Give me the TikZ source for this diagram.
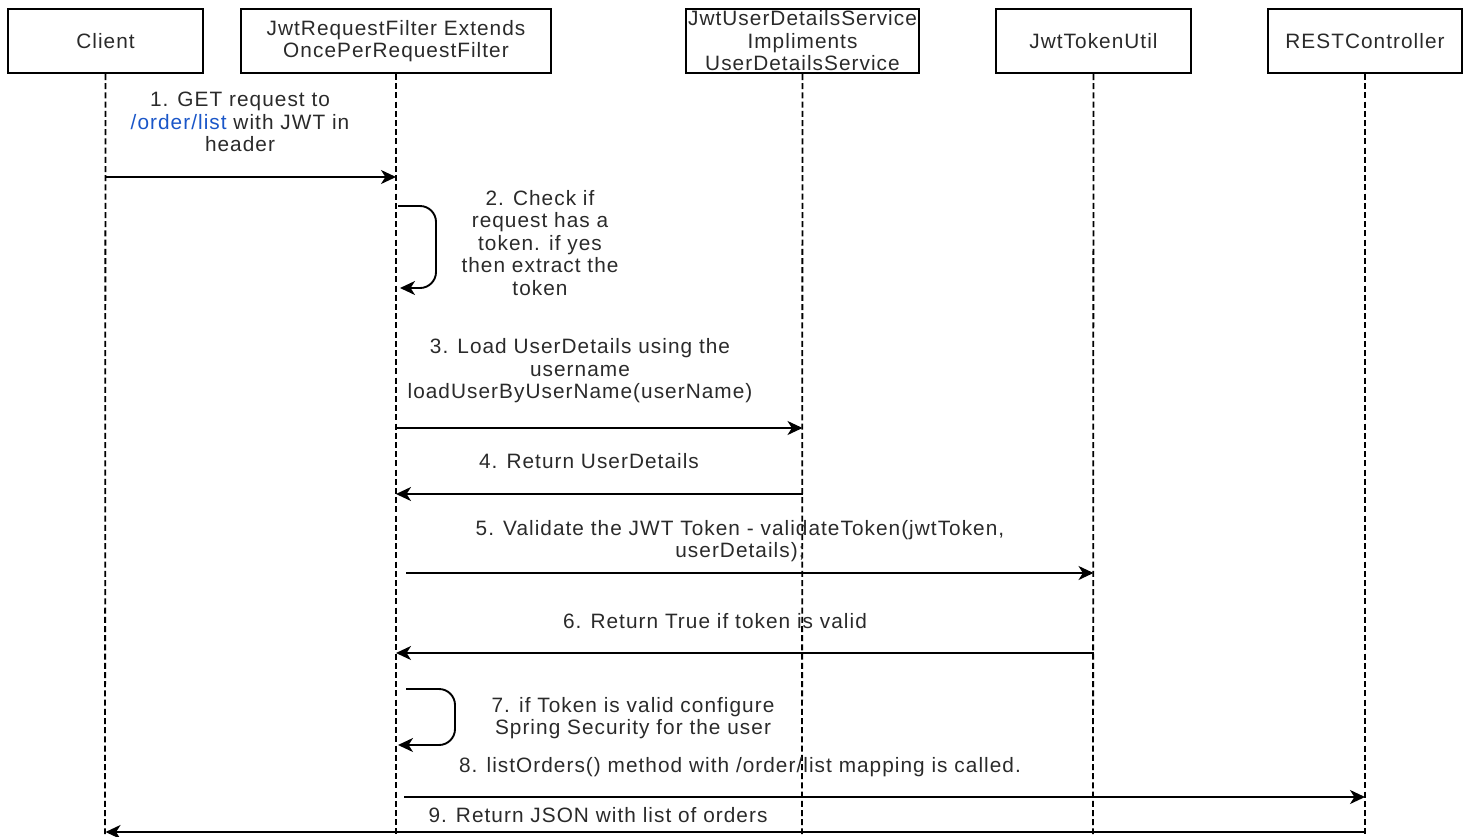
\documentclass[tikz,border=0pt]{standalone}
\usepackage{fontspec}
\setmainfont{Liberation Sans}[LetterSpace=5]
\usetikzlibrary{arrows.meta}
\definecolor{txt}{HTML}{2A2A2A}
\definecolor{lnk}{HTML}{1A56C8}
\begin{document}
\begin{tikzpicture}[x=0.5pt,y=-0.5pt,
  actor/.style={draw=black,line width=1pt,rectangle,minimum width=#1*0.5pt,minimum height=32pt,inner sep=0pt,align=center,font=\fontsize{10.4}{11.25}\selectfont,text=txt},
  life/.style={line width=0.9pt,dash pattern=on 3pt off 1.6pt},
  msg/.style={line width=0.95pt,-{Stealth[length=7.5pt,width=7pt,inset=2.2pt]}},
  lbl/.style={align=center,font=\fontsize{10.4}{11.25}\selectfont,text=txt,inner sep=0pt}]
\useasboundingbox (0,0) rectangle (1466,836);
% actors
\node[actor=195] (client) at (105.5,41) {Client};
\node[actor=310] (filter) at (396,41) {JwtRequestFilter Extends\\OncePerRequestFilter};
\node[actor=233] (uds) at (802.5,41) {JwtUserDetailsService\\Impliments\\UserDetailsService};
\node[actor=195] (jtu) at (1093.5,41) {JwtTokenUtil};
\node[actor=194] (rest) at (1365,41) {RESTController};
% lifeline ends
\coordinate (clientEnd) at (105,834);
\coordinate (filterEnd) at (396,834);
\coordinate (udsEnd) at (802,834);
\coordinate (jtuEnd) at (1093,834);
\coordinate (restEnd) at (1365,834);
\draw[life] (client.south) -- (clientEnd);
\draw[life] (filter.south) -- (filterEnd);
\draw[life] (uds.south) -- (udsEnd);
\draw[life] (jtu.south) -- (jtuEnd);
\draw[life] (rest.south) -- (restEnd);
% 1
\node[lbl] (t1) at (240,122) {1. GET request to\\\textcolor{lnk}{/order/list} with JWT in\\header};
\draw[msg] (client |- 0,177) -- (filter |- 0,177);
% 2
\coordinate (s2a) at (398,206);
\coordinate (s2b) at (436,206);
\coordinate (s2c) at (436,288);
\coordinate (s2d) at (400,288);
\draw[msg,rounded corners=8pt] (s2a) -- (s2b) -- (s2c) -- (s2d);
\node[lbl] (t2) at (540,243) {2. Check if\\request has a\\token. if yes\\then extract the\\token};
% 3
\node[lbl] (t3) at (580,371) {3. Load UserDetails using the\\username\\loadUserByUserName(userName)};
\draw[msg] (filter |- 0,428) -- (uds |- 0,428);
% 4
\node[lbl] (t4) at (589,461) {4. Return UserDetails};
\draw[msg] (uds |- 0,494) -- (filter |- 0,494);
% 5
\node[lbl] (t5) at (740,541) {5. Validate the JWT Token - validateToken(jwtToken,\\userDetails);};
\coordinate (m5) at (406,573);
\draw[msg] (m5) -- (jtu |- 0,573);
% 6
\node[lbl] (t6) at (715,621) {6. Return True if token is valid};
\draw[msg] (jtu |- 0,653) -- (filter |- 0,653);
% 7
\coordinate (s7a) at (406,689);
\coordinate (s7b) at (455,689);
\coordinate (s7c) at (455,745);
\coordinate (s7d) at (398,745);
\draw[msg,rounded corners=8pt] (s7a) -- (s7b) -- (s7c) -- (s7d);
\node[lbl] (t7) at (633,718) {7. if Token is valid configure\\Spring Security for the user};
% 8
\node[lbl] (t8) at (740,767) {8. listOrders() method with /order/list mapping is called.};
\coordinate (m8) at (404,797);
\draw[msg] (m8) -- (rest |- 0,797);
% 9
\node[lbl] (t9) at (598,815) {9. Return JSON with list of orders};
\draw[msg] (rest |- 0,832) -- (client |- 0,832);
\end{tikzpicture}
\end{document}
